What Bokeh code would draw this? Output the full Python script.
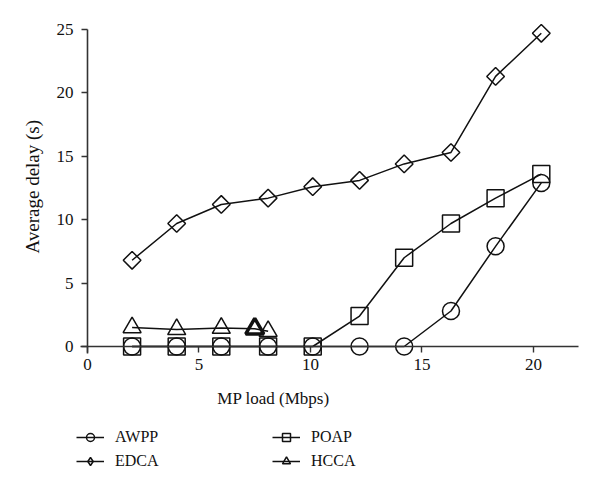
import math
from bokeh.plotting import figure
from bokeh.models import (Range1d, LinearAxis, FixedTicker, Legend, LegendItem,
                          Label)
from bokeh.embed import file_html
from bokeh.resources import INLINE

# ---- data ----
load = [2, 4, 6, 8.1, 10.1, 12.2, 14.2, 16.3, 18.3, 20.35]
awpp = [0, 0, 0, 0, 0, 0, 0, 2.8, 7.9, 12.9]
poap = [0, 0, 0, 0, 0, 2.4, 7.0, 9.7, 11.7, 13.6]
edca = [6.8, 9.7, 11.2, 11.7, 12.6, 13.1, 14.4, 15.3, 21.3, 24.7]
hcca_load = [2, 4, 6, 7.5, 8.1]
hcca = [1.5, 1.35, 1.45, 1.4, 1.2]
hcca_bold_load = [7.5]
hcca_bold = [1.4]
x_ticks = [0, 5, 10, 15, 20]
y_ticks = [0, 5, 10, 15, 20, 25]
x_title = "MP load (Mbps)"
y_title = "Average delay (s)"

FONT = "Liberation Serif"
INK = "#111111"
AX = "#333333"

W, H = 598, 488
p = figure(width=W, height=H, output_backend="svg", toolbar_location=None,
           x_range=Range1d(-3.901, 22.915), y_range=Range1d(-11.199, 27.287),
           x_axis_type=None, y_axis_type=None,
           min_border_left=0, min_border_right=0, min_border_top=0,
           min_border_bottom=0)
p.outline_line_color = None
p.background_fill_color = "white"
p.border_fill_color = "white"

def style_axis(ax):
    ax.axis_line_color = AX
    ax.axis_line_width = 1.6
    ax.major_tick_line_color = AX
    ax.major_tick_line_width = 1.4
    ax.major_tick_out = 6
    ax.major_tick_in = 0
    ax.minor_tick_out = 0
    ax.minor_tick_in = 0
    ax.major_label_text_font = FONT
    ax.major_label_text_font_size = "17px"
    ax.major_label_text_color = INK

xaxis = LinearAxis(fixed_location=0, ticker=FixedTicker(ticks=x_ticks),
                   bounds=(-0.3, 22))
style_axis(xaxis)
xaxis.major_label_standoff = 7
p.add_layout(xaxis, "below")

yaxis = LinearAxis(fixed_location=0, ticker=FixedTicker(ticks=y_ticks),
                   bounds=(-0.55, 25))
style_axis(yaxis)
yaxis.major_label_standoff = 8
p.add_layout(yaxis, "left")

LW = 1.5
def series(xs, ys, marker, size, angle=0.0):
    l = p.line(xs, ys, line_color=INK, line_width=LW)
    s = p.scatter(xs, ys, marker=marker, size=size, angle=angle,
                  fill_alpha=0, line_color=INK, line_width=LW)
    return l, s

r_awpp = series(load, awpp, "circle", 17)
r_poap = series(load, poap, "square", 17)
r_edca = series(load, edca, "square", 12.5, angle=math.pi / 4)
r_hcca = series(hcca_load, hcca, "triangle", 18)
p.scatter(hcca_bold_load, hcca_bold, marker="triangle", size=18,
          fill_alpha=0, line_color=INK, line_width=3.5)

# legend proxy for EDCA (diamond symbol)
edca_key_l = p.line(load, edca, line_color=INK, line_width=LW, visible=False)
edca_key_s = p.scatter(load, edca, marker="diamond", size=10, fill_alpha=0,
                       line_color=INK, line_width=LW, visible=False)

p.add_layout(Label(x=8.34, y=-4.1, text=x_title, text_align="center",
                   text_baseline="middle", text_font=FONT,
                   text_font_size="17px", text_color=INK))
p.add_layout(Label(x=-2.45, y=12.6, text=y_title, angle=math.pi / 2,
                   text_align="center", text_baseline="middle",
                   text_font=FONT, text_font_size="19px", text_color=INK))

legend = Legend(items=[LegendItem(label="AWPP", renderers=list(r_awpp)),
                       LegendItem(label="EDCA", renderers=[edca_key_l, edca_key_s]),
                       LegendItem(label="POAP", renderers=list(r_poap)),
                       LegendItem(label="HCCA", renderers=list(r_hcca))],
                location=(76, 17), orientation="vertical", ncols=2,
                glyph_width=28, glyph_height=20, label_height=20,
                label_width=153, spacing=4, padding=0, margin=0,
                label_standoff=11, border_line_color=None,
                background_fill_alpha=0, inactive_fill_alpha=0,
                label_text_font=FONT, label_text_font_size="16px",
                label_text_color=INK)
p.add_layout(legend, "center")

open("out.html", "w").write(file_html(p, INLINE))
